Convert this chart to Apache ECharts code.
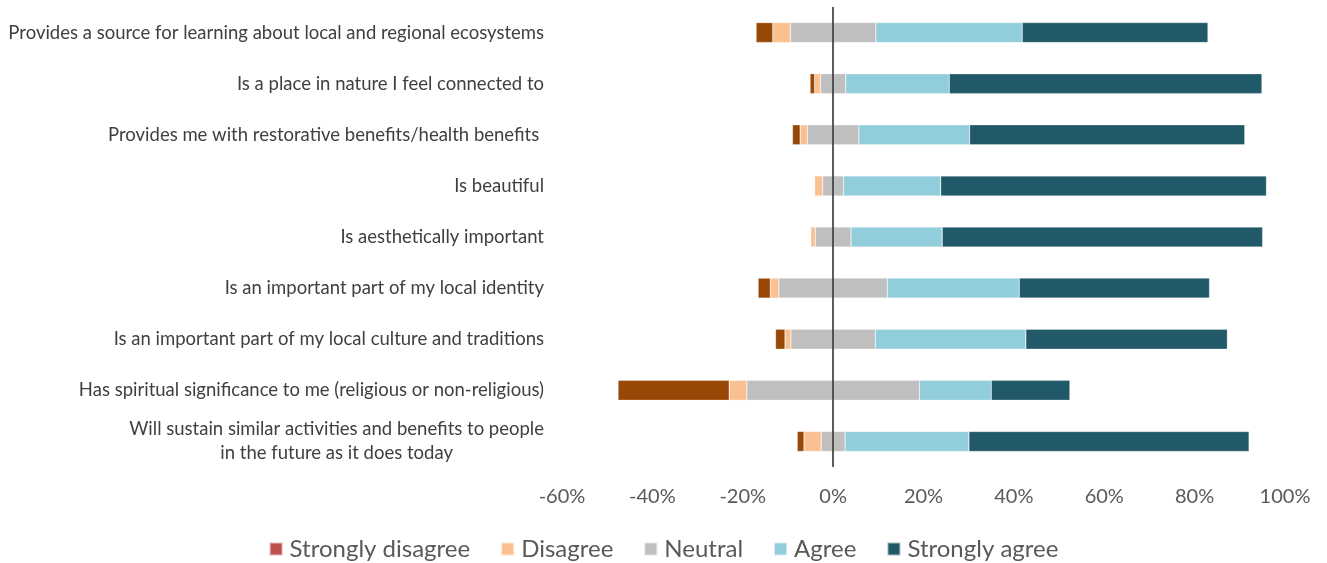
<!DOCTYPE html>
<html>
<head>
<meta charset="utf-8">
<script src="https://cdn.jsdelivr.net/npm/echarts@6/dist/echarts.min.js"></script>
<style>
html,body{margin:0;padding:0;background:#fff;}
#chart{width:1327px;height:563px;}
</style>
</head>
<body>
<div id="chart"></div>
<script>
const categories = [
  'Provides a source for learning about local and regional ecosystems',
  'Is a place in nature I feel connected to',
  'Provides me with restorative benefits/health benefits ',
  'Is beautiful',
  'Is aesthetically important',
  'Is an important part of my local identity',
  'Is an important part of my local culture and traditions',
  'Has spiritual significance to me (religious or non-religious)',
  'Will sustain similar activities and benefits to people\nin the future as it does today'
];
const stronglyDisagree = [3.7, 1.0, 1.7, 0, 0, 2.7, 2.1, 24.6, 1.5];
const disagree         = [3.9, 1.3, 1.6, 1.8, 1.0, 1.9, 1.3, 3.9, 3.8];
const neutral          = [18.9, 5.6, 11.4, 4.6, 7.9, 24.0, 18.7, 38.2, 5.3];
const agree            = [32.4, 22.9, 24.5, 21.5, 20.2, 29.2, 33.3, 15.9, 27.4];
const stronglyAgree    = [41.1, 69.2, 60.9, 72.1, 70.9, 42.1, 44.6, 17.4, 62.0];
const xTicks = { min: -60, max: 100, interval: 20 };

const FONT = 'Lato, "Open Sans", sans-serif';
const colors = {
  sdBar: '#974706', sdLegend: '#C0504D', d: '#FAC090', n: '#BFBFBF', a: '#92CDDC', sa: '#215968'
};

function bar(name, data, color, extra) {
  return Object.assign({
    name: name, type: 'bar', stack: 'total', barWidth: 20,
    data: data, itemStyle: { color: color, borderColor: 'rgba(255,255,255,0.6)', borderWidth: 0.5 },
    emphasis: { disabled: true }, silent: true
  }, extra || {});
}

const series = [
  bar('Neutral', neutral.map(v => -v / 2), colors.n, {
    markLine: {
      silent: true, symbol: 'none', label: { show: false },
      lineStyle: { color: '#262626', width: 1.5, type: 'solid' },
      data: [{ xAxis: 0 }]
    }
  }),
  bar('Neutral', neutral.map(v => v / 2), colors.n),
  bar('Disagree', disagree.map(v => -v), colors.d),
  bar('Agree', agree, colors.a),
  bar('Strongly disagree', stronglyDisagree.map(v => ({ value: -v, itemStyle: { color: colors.sdBar } })), colors.sdLegend),
  bar('Strongly agree', stronglyAgree, colors.sa)
];

const chart = echarts.init(document.getElementById('chart'), null, { renderer: 'canvas' });
chart.setOption({
  animation: false,
  backgroundColor: '#ffffff',
  grid: { left: 562, right: 42, top: 7, bottom: 96, containLabel: false },
  legend: {
    data: ['Strongly disagree', 'Disagree', 'Neutral', 'Agree', 'Strongly agree'],
    left: 'center', top: 532, itemWidth: 13, itemHeight: 13, itemGap: 30,
    icon: 'rect',
    textStyle: { fontFamily: FONT, fontSize: 24, color: '#595959', padding: [0, 0, 0, 2] }
  },
  xAxis: {
    type: 'value', min: xTicks.min, max: xTicks.max, interval: xTicks.interval,
    axisLine: { show: false }, axisTick: { show: false }, splitLine: { show: false },
    axisLabel: { formatter: '{value}%', fontFamily: FONT, fontSize: 20, color: '#595959', margin: 20 }
  },
  yAxis: {
    type: 'category', inverse: true, data: categories,
    axisLine: { show: false }, axisTick: { show: false },
    axisLabel: {
      margin: 18, fontFamily: FONT, fontSize: 18.5, color: '#404040', align: 'right',
      formatter: function (v) {
        if (v.indexOf('\n') >= 0) {
          return v.split('\n').map(s => '{c|' + s + '}').join('\n');
        }
        return v;
      },
      rich: { c: { align: 'center', fontFamily: FONT, fontSize: 18.5, color: '#404040', lineHeight: 24 } }
    }
  },
  series: series
});
</script>
</body>
</html>
